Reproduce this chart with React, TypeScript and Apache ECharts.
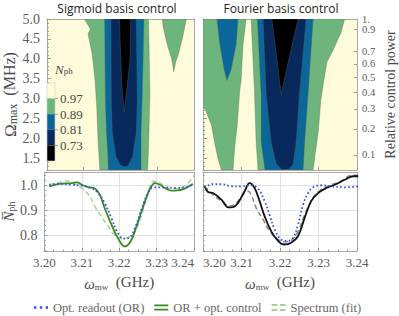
import React, { useEffect, useRef } from 'react';
import * as echarts from 'echarts';

// ---------- axes ----------
const X_MIN = 3.2;
const X_MAX = 3.24;
const X_STEP = 0.01;
const OMEGA_MIN = 1.2;
const OMEGA_MAX = 5.0;
const NPH_MIN = 0.738;
const NPH_MAX = 1.053;
const POWER_TICKS = [0.9, 0.8, 0.7, 0.6, 0.5, 0.4, 0.3, 0.2, 0.1];
const POWER_FULL = 1;
const OMEGA_FULL_POWER = 5.0;

// ---------- contour levels ----------
const LEVELS = [0.97, 0.89, 0.81, 0.73];
const LEVEL_COLORS = ['#fdfbd9', '#6db47d', '#0b669a', '#08295b', '#000000'];

// ---------- contour regions [GHz, MHz] : Sigmoid ----------
const SIG_GREEN_MAIN = [[3.2102, 5.0], [3.2118, 4.75], [3.2112, 4.62], [3.2123, 4.12], [3.2131, 3.46], [3.2136, 2.71], [3.2139, 1.955], [3.2144, 1.2], [3.2274, 1.2], [3.2277, 1.955], [3.228, 3.11], [3.2278, 4.2], [3.2276, 5.0]];
const SIG_GREEN_SIDE = [[3.2314, 5.0], [3.2379, 5.0], [3.2371, 4.62], [3.2358, 4.12], [3.235, 3.92], [3.2345, 3.67], [3.234, 3.97], [3.2327, 4.37], [3.2316, 4.8]];
const SIG_BLUE = [[3.2157, 5.0], [3.2264, 5.0], [3.2259, 2.96], [3.2256, 2.13], [3.2256, 1.2], [3.2167, 1.2], [3.2165, 1.7], [3.2162, 2.13], [3.2159, 2.96]];
const SIG_NAVY = [[3.2174, 5.0], [3.2243, 5.0], [3.2246, 2.96], [3.2243, 2.13], [3.2233, 1.53], [3.2221, 1.3], [3.2211, 1.28], [3.22, 1.32], [3.2188, 1.53], [3.2178, 2.13], [3.2175, 2.96]];
const SIG_BLACK = [[3.2197, 5.0], [3.2227, 5.0], [3.2226, 3.97], [3.2218, 3.3], [3.221, 2.66], [3.2204, 3.3], [3.2201, 3.97]];

// ---------- contour regions [GHz, MHz] : Fourier ----------
const FOU_GREEN_LEFT = [[3.2, 5.0], [3.2112, 5.0], [3.2104, 4.37], [3.2099, 3.46], [3.2095, 3.16], [3.2089, 2.33], [3.2082, 1.74], [3.2078, 1.2], [3.2048, 1.2], [3.2039, 1.48], [3.203, 1.9], [3.2022, 2.33], [3.2005, 2.74], [3.2, 2.78]];
const FOU_BLUE_LEFT = [[3.2036, 5.0], [3.2091, 5.0], [3.2086, 4.35], [3.2073, 3.72], [3.2062, 3.45], [3.2055, 3.72], [3.2044, 4.35]];
const FOU_GREEN_MAIN = [[3.2125, 5.0], [3.2368, 5.0], [3.2358, 4.65], [3.2338, 4.22], [3.2322, 3.92], [3.2314, 3.46], [3.2306, 2.96], [3.2299, 2.13], [3.2291, 1.58], [3.2286, 1.2], [3.2143, 1.2], [3.2138, 1.9], [3.2134, 3.11]];
const FOU_BLUE_MAIN = [[3.2141, 5.0], [3.2286, 5.0], [3.2273, 3.11], [3.2264, 1.9], [3.226, 1.2], [3.2161, 1.2], [3.2151, 1.9], [3.2151, 3.11]];
const FOU_NAVY = [[3.2156, 5.0], [3.2268, 5.0], [3.2251, 3.16], [3.2242, 1.9], [3.2234, 1.33], [3.2222, 1.22], [3.2205, 1.21], [3.219, 1.36], [3.2177, 1.9], [3.2164, 3.11]];
const FOU_BLACK = [[3.2179, 5.0], [3.2247, 5.0], [3.2225, 4.07], [3.2203, 3.11], [3.2191, 4.07]];

// ---------- N_ph curves [GHz, N_ph] : Sigmoid ----------
const SIG_READOUT = [[3.2013, 1.002], [3.2039, 1.006], [3.2074, 1.002], [3.21, 0.999], [3.2126, 0.989], [3.2144, 0.969], [3.2161, 0.93], [3.2179, 0.87], [3.2196, 0.811], [3.2212, 0.787], [3.2227, 0.791], [3.2244, 0.837], [3.2261, 0.91], [3.2279, 0.976], [3.2292, 0.992], [3.2318, 0.992], [3.2353, 0.989], [3.2379, 0.993], [3.2397, 1.002]];
const SIG_CONTROL = [[3.2013, 0.996], [3.2039, 1.006], [3.2074, 1.009], [3.2087, 1.012], [3.21, 1.002], [3.2118, 0.992], [3.2135, 0.987], [3.2148, 0.963], [3.2161, 0.91], [3.2179, 0.844], [3.2196, 0.791], [3.2215, 0.756], [3.2231, 0.778], [3.2248, 0.844], [3.2266, 0.923], [3.2283, 0.989], [3.2296, 1.009], [3.2309, 1.002], [3.2322, 0.989], [3.234, 0.979], [3.2357, 0.98], [3.2375, 0.987], [3.2397, 1.005]];
const SIG_SPECTRUM = [[3.2013, 1.004], [3.2035, 1.009], [3.2057, 1.018], [3.2074, 1.009], [3.21, 0.989], [3.2118, 0.963], [3.2135, 0.916], [3.2152, 0.877], [3.217, 0.837], [3.2187, 0.804], [3.2205, 0.788], [3.2222, 0.791], [3.224, 0.811], [3.2257, 0.87], [3.2275, 0.956], [3.2292, 1.016], [3.2309, 1.009], [3.2327, 0.989], [3.2353, 0.987], [3.2379, 1.002], [3.2401, 1.04]];

// ---------- N_ph curves [GHz, N_ph] : Fourier ----------
const FOU_READOUT = [[3.2004, 0.989], [3.2026, 1.005], [3.2048, 1.005], [3.2074, 0.996], [3.21, 0.996], [3.2125, 1.0], [3.2143, 0.987], [3.216, 0.937], [3.2173, 0.883], [3.2186, 0.824], [3.2203, 0.784], [3.2219, 0.778], [3.2234, 0.791], [3.2247, 0.844], [3.226, 0.923], [3.2273, 0.969], [3.2286, 0.992], [3.2307, 1.0], [3.2333, 0.996], [3.2368, 0.992], [3.2403, 0.996]];
const FOU_CONTROL = [[3.2004, 0.996], [3.2013, 0.973], [3.2026, 0.969], [3.2048, 0.943], [3.2066, 0.912], [3.2078, 0.913], [3.2091, 0.93], [3.2108, 0.976], [3.2121, 1.009], [3.2134, 0.989], [3.2147, 0.937], [3.216, 0.877], [3.2177, 0.817], [3.2195, 0.778], [3.221, 0.764], [3.2229, 0.771], [3.2247, 0.798], [3.2264, 0.87], [3.2281, 0.937], [3.2299, 0.969], [3.232, 0.989], [3.2342, 1.002], [3.2368, 1.022], [3.239, 1.036], [3.2403, 1.036]];
const FOU_SPECTRUM = [[3.2004, 0.996], [3.2026, 0.963], [3.2048, 0.937], [3.2069, 0.917], [3.2087, 0.93], [3.2104, 0.963], [3.2117, 0.976], [3.2125, 0.963], [3.2138, 0.91], [3.2156, 0.864], [3.2173, 0.817], [3.2195, 0.784], [3.2212, 0.775], [3.2229, 0.78], [3.2247, 0.817], [3.2264, 0.883], [3.2286, 0.95], [3.2307, 0.983], [3.2333, 1.002], [3.2359, 1.016], [3.2385, 1.04], [3.2403, 1.04]];

// ---------- styling ----------
const SERIF = "'Liberation Serif', 'DejaVu Serif', serif";
const SANS = "'Open Sans', 'DejaVu Sans', sans-serif";
const FRAME = '#a9a9a9';
const TICK = '#9a9a9a';
const LABEL = '#5a5a5a';
const NAME = '#4a4a4a';
const BLUE = '#2f4ef2';
const GREEN = '#3b8a22';
const LIGHT_GREEN = '#a9d096';
const DARK = '#111111';
const GRAY_DASH = '#8a8a8a';

const SIG_REGIONS = [
  { level: 1, pts: SIG_GREEN_MAIN },
  { level: 1, pts: SIG_GREEN_SIDE },
  { level: 2, pts: SIG_BLUE },
  { level: 3, pts: SIG_NAVY },
  { level: 4, pts: SIG_BLACK },
];
const FOU_REGIONS = [
  { level: 1, pts: FOU_GREEN_LEFT },
  { level: 2, pts: FOU_BLUE_LEFT },
  { level: 1, pts: FOU_GREEN_MAIN },
  { level: 2, pts: FOU_BLUE_MAIN },
  { level: 3, pts: FOU_NAVY },
  { level: 4, pts: FOU_BLACK },
];

const GRIDS = [
  { left: 41, top: 19, width: 153, height: 151 },
  { left: 203, top: 19, width: 154, height: 151 },
  { left: 41, top: 172, width: 153, height: 79 },
  { left: 203, top: 172, width: 154, height: 79 },
];

function contourSeries(regions: any[], axisIndex: number) {
  return {
    type: 'custom',
    xAxisIndex: axisIndex,
    yAxisIndex: axisIndex,
    silent: true,
    clip: true,
    z: 1,
    data: regions.map((r) => r.pts[0]),
    renderItem: (params: any, api: any) => {
      const r = regions[params.dataIndex];
      return {
        type: 'polygon',
        shape: { points: r.pts.map((p: number[]) => api.coord(p)) },
        style: { fill: LEVEL_COLORS[r.level], stroke: 'rgba(95,105,85,0.6)', lineWidth: 0.6 },
      };
    },
  };
}

function frameAxis(gridIndex: number, position: string, min: number, max: number) {
  return {
    type: 'value',
    gridIndex,
    position,
    min,
    max,
    axisLine: { show: true, onZero: false, lineStyle: { color: FRAME, width: 1 } },
    axisTick: { show: false },
    axisLabel: { show: false },
    splitLine: { show: false },
  };
}

const tickStyle = { color: TICK, width: 1 };

function xBottom(gridIndex: number, withLabels: boolean, extraLabel: any = {}) {
  return {
    type: 'value',
    gridIndex,
    position: 'bottom',
    min: X_MIN,
    max: X_MAX,
    interval: X_STEP,
    axisLine: { show: true, onZero: false, lineStyle: { color: FRAME, width: 1 } },
    axisTick: { show: true, inside: true, length: 3, lineStyle: tickStyle },
    minorTick: { show: withLabels, splitNumber: 4, length: 1.5, lineStyle: tickStyle },
    splitLine: { show: withLabels, lineStyle: { color: '#e2e2e2', width: 1 } },
    axisLabel: {
      show: withLabels,
      margin: 5,
      fontFamily: SERIF,
      fontSize: 13,
      color: LABEL,
      formatter: (v: number) => v.toFixed(2),
      ...extraLabel,
    },
    ...(withLabels
      ? {
          name: '{w|ω}{s|mw}  (GHz)',
          nameLocation: 'middle',
          nameGap: 22,
          nameTextStyle: {
            fontFamily: SERIF,
            fontSize: 15,
            color: NAME,
            rich: {
              w: { fontFamily: SERIF, fontSize: 15, fontStyle: 'italic', color: NAME, lineHeight: 18, verticalAlign: 'bottom' },
              s: { fontFamily: SERIF, fontSize: 9, color: NAME, lineHeight: 10, verticalAlign: 'bottom' },
            },
          },
        }
      : {}),
  };
}

const toOmega = (p: number) => OMEGA_FULL_POWER * Math.sqrt(p);
const toPower = (v: number) => Math.pow(v / OMEGA_FULL_POWER, 2);
const powerOmega = POWER_TICKS.map(toOmega);

const powerLabelStyle = { fontFamily: SERIF, fontSize: 10.5, lineHeight: 8, color: LABEL, margin: 5 };

const option: any = {
  animation: false,
  backgroundColor: '#ffffff',
  title: [
    { text: 'Sigmoid basis control', left: 117, top: 1, padding: 0, textAlign: 'center', textStyle: { fontFamily: SANS, fontSize: 12, lineHeight: 14, fontWeight: 'normal', color: '#222' } },
    { text: 'Fourier basis control', left: 281, top: 1, padding: 0, textAlign: 'center', textStyle: { fontFamily: SANS, fontSize: 12, lineHeight: 14, fontWeight: 'normal', color: '#222' } },
  ],
  grid: [
    { ...GRIDS[0], show: true, borderWidth: 0, backgroundColor: LEVEL_COLORS[0] },
    { ...GRIDS[1], show: true, borderWidth: 0, backgroundColor: LEVEL_COLORS[0] },
    { ...GRIDS[2], show: false },
    { ...GRIDS[3], show: false },
  ],
  xAxis: [
    xBottom(0, false),
    frameAxis(0, 'top', X_MIN, X_MAX),
    xBottom(1, false),
    frameAxis(1, 'top', X_MIN, X_MAX),
    xBottom(2, true, { alignMaxLabel: 'right' }),
    frameAxis(2, 'top', X_MIN, X_MAX),
    xBottom(3, true, { alignMinLabel: 'left' }),
    frameAxis(3, 'top', X_MIN, X_MAX),
  ],
  yAxis: [
    {
      type: 'value',
      gridIndex: 0,
      position: 'left',
      min: OMEGA_MIN,
      max: OMEGA_MAX,
      splitNumber: 8,
      minInterval: 0.5,
      maxInterval: 0.5,
      axisLine: { show: true, onZero: false, lineStyle: { color: FRAME, width: 1 } },
      axisTick: { show: true, inside: true, length: 4, lineStyle: tickStyle },
      minorTick: { show: true, splitNumber: 5, length: 2, lineStyle: tickStyle },
      splitLine: { show: false },
      axisLabel: { show: true, margin: 7, fontFamily: SERIF, fontSize: 14, color: LABEL, showMinLabel: false, formatter: (v: number) => v.toFixed(1) },
      name: '{o|Ω}{s|max}  (MHz)',
      nameLocation: 'middle',
      nameRotate: 90,
      nameGap: 21,
      nameTextStyle: {
        fontFamily: SERIF,
        fontSize: 16,
        color: NAME,
        rich: {
          o: { fontFamily: SERIF, fontSize: 17, color: NAME, lineHeight: 19, verticalAlign: 'bottom' },
          s: { fontFamily: SERIF, fontSize: 12, color: NAME, lineHeight: 11, verticalAlign: 'bottom' },
        },
      },
    },
    frameAxis(0, 'right', OMEGA_MIN, OMEGA_MAX),
    {
      type: 'value',
      gridIndex: 1,
      position: 'left',
      min: OMEGA_MIN,
      max: OMEGA_MAX,
      splitNumber: 8,
      minInterval: 0.5,
      maxInterval: 0.5,
      axisLine: { show: true, onZero: false, lineStyle: { color: FRAME, width: 1 } },
      axisTick: { show: true, inside: true, length: 4, lineStyle: tickStyle },
      minorTick: { show: true, splitNumber: 5, length: 2, lineStyle: tickStyle },
      splitLine: { show: false },
      axisLabel: { show: false },
    },
    {
      type: 'value',
      gridIndex: 1,
      position: 'right',
      min: OMEGA_MIN,
      max: OMEGA_MAX,
      axisLine: { show: true, onZero: false, lineStyle: { color: FRAME, width: 1 } },
      axisTick: { show: true, inside: true, length: 3, customValues: powerOmega, lineStyle: tickStyle },
      splitLine: { show: false },
      axisLabel: {
        show: true,
        customValues: powerOmega,
        showMinLabel: true,
        showMaxLabel: true,
        ...powerLabelStyle,
        formatter: (v: number) => toPower(v).toFixed(1),
      },
      name: 'Relative control power',
      nameLocation: 'middle',
      nameRotate: 90,
      nameGap: 26,
      nameTextStyle: { fontFamily: SERIF, fontSize: 14, color: NAME },
    },
    {
      type: 'value',
      gridIndex: 1,
      position: 'right',
      min: OMEGA_MIN,
      max: OMEGA_MAX,
      axisLine: { show: false },
      axisTick: { show: false },
      splitLine: { show: false },
      axisLabel: {
        show: true,
        customValues: [toOmega(POWER_FULL)],
        showMinLabel: true,
        showMaxLabel: true,
        ...powerLabelStyle,
        formatter: (v: number) => `${Math.round(toPower(v))}.`,
      },
    },
    {
      type: 'value',
      gridIndex: 2,
      position: 'left',
      min: NPH_MIN,
      max: NPH_MAX,
      splitNumber: 3,
      minInterval: 0.1,
      maxInterval: 0.1,
      axisLine: { show: true, onZero: false, lineStyle: { color: FRAME, width: 1 } },
      axisTick: { show: true, inside: true, length: 3, lineStyle: tickStyle },
      minorTick: { show: true, splitNumber: 5, length: 1.5, lineStyle: tickStyle },
      splitLine: { show: true, lineStyle: { color: '#e2e2e2', width: 1 } },
      axisLabel: { show: true, margin: 7, fontFamily: SERIF, fontSize: 14, color: LABEL, showMinLabel: false, showMaxLabel: false, formatter: (v: number) => v.toFixed(1) },
      name: '{n|N\u0305}{s|ph}',
      nameLocation: 'middle',
      nameRotate: 90,
      nameGap: 24,
      nameTextStyle: {
        fontFamily: SERIF,
        fontSize: 15,
        color: NAME,
        rich: {
          n: { fontFamily: SERIF, fontSize: 15, fontStyle: 'italic', color: NAME, lineHeight: 18, verticalAlign: 'bottom' },
          s: { fontFamily: SERIF, fontSize: 10, color: NAME, lineHeight: 10, verticalAlign: 'bottom' },
        },
      },
    },
    frameAxis(2, 'right', NPH_MIN, NPH_MAX),
    {
      type: 'value',
      gridIndex: 3,
      position: 'left',
      min: NPH_MIN,
      max: NPH_MAX,
      splitNumber: 3,
      minInterval: 0.1,
      maxInterval: 0.1,
      axisLine: { show: true, onZero: false, lineStyle: { color: FRAME, width: 1 } },
      axisTick: { show: true, inside: true, length: 3, lineStyle: tickStyle },
      minorTick: { show: true, splitNumber: 5, length: 1.5, lineStyle: tickStyle },
      splitLine: { show: true, lineStyle: { color: '#e2e2e2', width: 1 } },
      axisLabel: { show: false },
    },
    frameAxis(3, 'right', NPH_MIN, NPH_MAX),
  ],
  legend: {
    left: 29,
    top: 296,
    itemWidth: 14,
    itemHeight: 8,
    itemGap: 10,
    selectedMode: false,
    textStyle: { fontFamily: SERIF, fontSize: 12.5, color: '#666' },
    data: [
      { name: 'Opt. readout (OR)', icon: 'path://M0,0h2v2h-2zM5,0h2v2h-2zM10,0h2v2h-2z', itemStyle: { color: BLUE, borderWidth: 0 } },
      { name: 'OR + opt. control', icon: 'path://M0,0h12v1.5h-12zM0,3.5h12v1.5h-12z', itemStyle: { color: GREEN, borderWidth: 0 } },
      { name: 'Spectrum (fit)', icon: 'path://M0,0h4v1.5h-4zM6,0h4v1.5h-4zM0,3.5h4v1.5h-4zM6,3.5h4v1.5h-4z', itemStyle: { color: LIGHT_GREEN, borderWidth: 0 } },
    ],
  },
  series: [
    contourSeries(SIG_REGIONS, 0),
    contourSeries(FOU_REGIONS, 2),
    { type: 'line', name: 'Spectrum (fit)', xAxisIndex: 4, yAxisIndex: 5, data: SIG_SPECTRUM, smooth: 0.4, symbol: 'none', showSymbol: false, lineStyle: { color: LIGHT_GREEN, width: 1.5, type: [5, 3] }, itemStyle: { color: LIGHT_GREEN } },
    { type: 'line', name: 'OR + opt. control', xAxisIndex: 4, yAxisIndex: 5, data: SIG_CONTROL, smooth: 0.4, symbol: 'none', showSymbol: false, lineStyle: { color: GREEN, width: 1.8 }, itemStyle: { color: GREEN } },
    { type: 'line', name: 'Opt. readout (OR)', xAxisIndex: 4, yAxisIndex: 5, data: SIG_READOUT, smooth: 0.4, symbol: 'none', showSymbol: false, lineStyle: { color: BLUE, width: 1.8, type: [1.6, 2.4] }, itemStyle: { color: BLUE } },
    { type: 'line', name: 'Spectrum (fit)', xAxisIndex: 6, yAxisIndex: 7, data: FOU_SPECTRUM, smooth: 0.4, symbol: 'none', showSymbol: false, lineStyle: { color: GRAY_DASH, width: 1.5, type: [5, 3] }, itemStyle: { color: GRAY_DASH } },
    { type: 'line', name: 'OR + opt. control', xAxisIndex: 6, yAxisIndex: 7, data: FOU_CONTROL, smooth: 0.4, symbol: 'none', showSymbol: false, lineStyle: { color: DARK, width: 1.8 }, itemStyle: { color: DARK } },
    { type: 'line', name: 'Opt. readout (OR)', xAxisIndex: 6, yAxisIndex: 7, data: FOU_READOUT, smooth: 0.4, symbol: 'none', showSymbol: false, lineStyle: { color: BLUE, width: 1.8, type: [1.6, 2.4] }, itemStyle: { color: BLUE } },
  ],
};

// colour-bar inset
const CB = { x: 47, y: 83, w: 8, h: 15.6 };
option.graphic = [
  ...LEVEL_COLORS.map((c, i) => ({
    type: 'rect',
    z: 100,
    silent: true,
    shape: { x: CB.x, y: CB.y + i * CB.h, width: CB.w, height: CB.h },
    style: { fill: c },
  })),
  {
    type: 'rect',
    z: 101,
    silent: true,
    shape: { x: CB.x, y: CB.y, width: CB.w, height: CB.h * LEVEL_COLORS.length },
    style: { fill: 'none', stroke: '#cfcfcf', lineWidth: 0.6 },
  },
  ...LEVELS.map((v, i) => ({
    type: 'line',
    z: 101,
    silent: true,
    shape: { x1: CB.x + CB.w, y1: CB.y + (i + 1) * CB.h, x2: CB.x + CB.w + 3, y2: CB.y + (i + 1) * CB.h },
    style: { stroke: '#8a8a8a', lineWidth: 0.8 },
  })),
  ...LEVELS.map((v, i) => ({
    type: 'text',
    z: 101,
    silent: true,
    x: CB.x + CB.w + 5,
    y: CB.y + (i + 1) * CB.h,
    style: { text: v.toFixed(2), fontFamily: SERIF, fontSize: 13, fill: '#4a4a4a', verticalAlign: 'middle', align: 'left' },
  })),
  {
    type: 'text',
    z: 101,
    silent: true,
    x: 55,
    y: 68,
    style: {
      text: '{n|N}{s|ph}',
      verticalAlign: 'middle',
      align: 'left',
      rich: {
        n: { fontFamily: SERIF, fontSize: 13, fontStyle: 'italic', fill: '#4a4a4a', lineHeight: 15, verticalAlign: 'bottom' },
        s: { fontFamily: SERIF, fontSize: 9, fill: '#4a4a4a', lineHeight: 9, verticalAlign: 'bottom' },
      },
    },
  },
];

export default function App() {
  const ref = useRef<HTMLDivElement>(null);
  useEffect(() => {
    const chart = echarts.init(ref.current as HTMLDivElement, null, { renderer: 'svg' });
    chart.setOption(option);
    return () => chart.dispose();
  }, []);
  return <div ref={ref} style={{ position: 'absolute', left: 0, top: 0, width: 399, height: 316 }} />;
}
